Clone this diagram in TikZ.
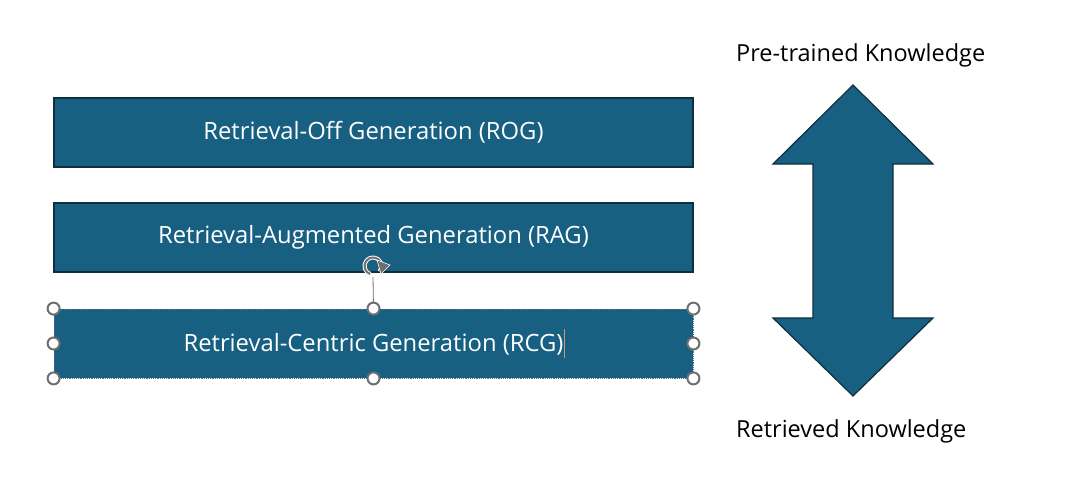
\documentclass[tikz,border=0pt]{standalone}
\usepackage{fontspec}
\setmainfont{Open Sans}
\usetikzlibrary{arrows.meta}
\definecolor{genblue}{HTML}{176082}
\definecolor{genedge}{HTML}{0F2F3F}
\definecolor{handlegray}{HTML}{6E6E6E}
\definecolor{cursorcol}{HTML}{C89A7A}
\tikzset{
  genbox/.style={draw=genedge, line width=1.2pt, fill=genblue, text=white,
    minimum width=639pt, minimum height=69pt, inner sep=0pt,
    font=\fontsize{23.8}{28}\selectfont},
  handle/.style={draw=handlegray, line width=2pt, fill=white, circle,
    minimum size=12pt, inner sep=0pt},
  sidelabel/.style={anchor=base west, inner sep=0pt, font=\fontsize{23.5}{28}\selectfont}
}
\begin{document}
\begin{tikzpicture}[x=1pt,y=-1pt]
			%%%%% START %%%%%
			\useasboundingbox (0,0) rectangle (1070,492);
			
			\node[genbox] (rog) at (373.5, 132.5) {\raisebox{-1pt}{Retrieval-Off Generation (ROG)}};
			\node[genbox] (rag) at (373.5, 237.5) {\raisebox{-1pt}{Retrieval-Augmented Generation (RAG)}};
			\node[genbox, draw=genedge!70, densely dotted, line width=0.8pt] (rcg) at (373.5, 343.5)
			  {\raisebox{-1pt}{Retrieval-Centric Generation (RCG)}\rlap{\hspace{1pt}\textcolor{cursorcol}{\rule[-8pt]{0.7pt}{29pt}}}};
			
			% double arrow
			\draw[fill=genblue, draw=genedge, line width=1.2pt]
			  (853, 85) -- (933, 164) -- (893, 164) -- (893, 318) -- (933, 318)
			  -- (853, 396) -- (773, 318) -- (813, 318) -- (813, 164) -- (773, 164) -- cycle;
			
			\node[sidelabel] (pre) at (736, 62) {Pre-trained Knowledge};
			\node[sidelabel] (ret) at (736, 437) {Retrieved Knowledge};
			
			% selection handles
			\coordinate (rot) at (373, 266);
			\draw[color=handlegray, line width=0.8pt] (373, 277) -- (rcg.north);
			\draw[color=white, line width=4pt] ([shift={(40:8.5)}]rot) arc (40:-250:8.5);
			\draw[color=handlegray, line width=2pt] ([shift={(40:8.5)}]rot) arc (40:-250:8.5);
			\fill[handlegray, draw=white, line width=0.6pt] (377, 260) -- (390, 265) -- (381, 274) -- cycle;
			
			\foreach \pos in {north west, north, north east, west, east, south west, south, south east}
			  \node[handle] at (rcg.\pos) {};
			
			%%%%% END %%%%%
\end{tikzpicture}
\end{document}
